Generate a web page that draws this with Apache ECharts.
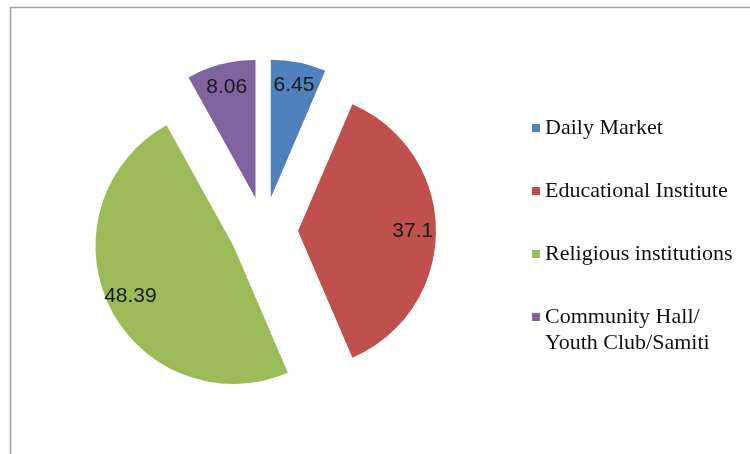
<!DOCTYPE html>
<html>
<head>
<meta charset="utf-8">
<script src="https://cdn.jsdelivr.net/npm/echarts@6/dist/echarts.min.js"></script>
<style>
  html, body { margin: 0; padding: 0; background: #ffffff; }
  #chart { width: 750px; height: 454px; }
</style>
</head>
<body>
<div id="chart"></div>
<script>
// Facility categories and their percentage shares
const categories = ['Daily Market', 'Educational Institute', 'Religious institutions', 'Community Hall/Youth Club/Samiti'];
const legendText = ['Daily Market', 'Educational Institute', 'Religious institutions', 'Community Hall/\nYouth Club/Samiti'];
const shares = [6.45, 37.1, 48.39, 8.06];
const colors = ['#4F81BD', '#C0504D', '#9BBB59', '#8064A2'];

const PIE_CENTER = [264, 231];
const PIE_RADIUS = 138;
const EXPLODE = 34;

const pieData = categories.map((name, i) => ({
  name: name,
  value: shares[i],
  selected: true,
  itemStyle: { color: colors[i] }
}));

// transparent ring that only carries the value labels, placed toward the rim
const labelData = categories.map((name, i) => ({
  name: name,
  value: shares[i],
  selected: true
}));

// square legend icons; the two-line entry keeps its square beside the first line
const squareIcon = 'path://M0,0H8V8H0Z';
const topSquareIcon = 'path://M0,0L0,0M0,9H8V17H0ZM0,52L0,52';

const chart = echarts.init(document.getElementById('chart'), null, { renderer: 'canvas' });

chart.setOption({
  animation: false,
  backgroundColor: '#ffffff',
  legend: {
    orient: 'vertical',
    left: 527,
    top: 110,
    itemWidth: 8,
    itemHeight: 52,
    itemGap: 37,
    selectedMode: false,
    data: categories.map((name, i) => ({
      name: name,
      icon: i === categories.length - 1 ? topSquareIcon : squareIcon
    })),
    itemStyle: { borderWidth: 0 },
    formatter: name => legendText[categories.indexOf(name)],
    textStyle: {
      fontFamily: 'Liberation Serif',
      fontSize: 22,
      lineHeight: 26,
      color: '#111111'
    }
  },
  graphic: [
    {
      type: 'polyline',
      silent: true,
      shape: { points: [[10.5, 454], [10.5, 7.5], [750, 7.5]] },
      style: { stroke: '#a3a3a3', lineWidth: 1.6, fill: null }
    }
  ],
  series: [
    {
      type: 'pie',
      center: PIE_CENTER,
      radius: PIE_RADIUS,
      startAngle: 90,
      clockwise: true,
      selectedMode: 'multiple',
      selectedOffset: EXPLODE,
      label: { show: false },
      labelLine: { show: false },
      itemStyle: { borderWidth: 0 },
      emphasis: { disabled: true },
      select: { itemStyle: { borderWidth: 0 } },
      data: pieData
    },
    {
      type: 'pie',
      silent: true,
      center: PIE_CENTER,
      radius: [PIE_RADIUS * 0.62, PIE_RADIUS],
      startAngle: 90,
      clockwise: true,
      selectedMode: 'multiple',
      selectedOffset: EXPLODE,
      itemStyle: { color: 'rgba(0,0,0,0)', borderWidth: 0 },
      emphasis: { disabled: true },
      select: { itemStyle: { color: 'rgba(0,0,0,0)', borderWidth: 0 } },
      labelLine: { show: false },
      label: {
        show: true,
        position: 'inner',
        formatter: p => String(p.value),
        fontFamily: 'Liberation Sans',
        fontSize: 21,
        color: '#1a1a1a'
      },
      data: labelData
    }
  ]
});
</script>
</body>
</html>
